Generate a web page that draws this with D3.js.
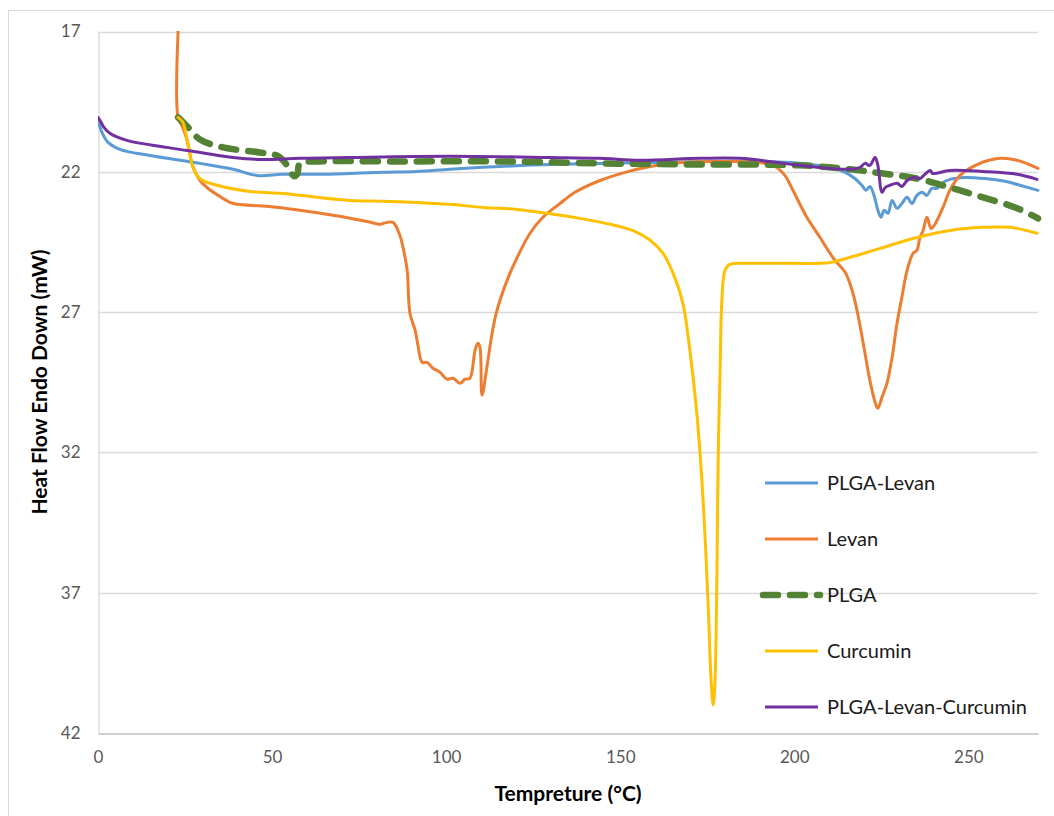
<!DOCTYPE html>
<html>
<head>
<meta charset="utf-8">
<script src="https://cdn.jsdelivr.net/npm/d3@7"></script>
<style>
  html, body { margin: 0; padding: 0; background: #fff; }
  svg { display: block; }
  text { font-family: Lato, "Open Sans", sans-serif; }
</style>
</head>
<body>
<svg id="chart" width="1054" height="816"></svg>
<script>
// ---- Data (temperature °C, heat flow mW) ----
const seriesNames = ["PLGA-Levan", "Levan", "PLGA", "Curcumin", "PLGA-Levan-Curcumin"];
const seriesColors = ["#5B9BD5", "#ED7D31", "#548235", "#FFC000", "#7030A0"];

const plgaLevan = [
  [0,20.17],[1.15,20.60],[2.9,20.95],[6.3,21.20],[14.9,21.42],[29.3,21.70],[38.8,21.91],[45.7,22.13],
  [53.1,22.09],[62.9,22.09],[72.4,22.06],[81.9,22.02],[91.6,21.99],[101.1,21.91],[115.5,21.81],
  [129.8,21.74],[144.2,21.70],[158.6,21.67],[172.9,21.63],[187.3,21.63],[198.8,21.67],[204.5,21.74],
  [210.3,21.84],[214.6,22.02],[217.4,22.24],[219.4,22.48],[220.6,22.66],[221.7,22.52],[222.9,22.84],
  [224.0,23.37],[224.9,23.62],[225.8,23.37],[226.9,23.48],[228.1,23.02],[229.5,23.30],[230.9,23.13],
  [232.4,22.91],[233.8,23.13],[235.2,22.84],[236.7,22.73],[238.1,22.84],[239.5,22.59],[241.0,22.59],
  [242.4,22.41],[244.7,22.27],[249.0,22.20],[254.8,22.24],[260.5,22.34],[264.8,22.48],[270,22.66]
];

const levan = [
  [23.0,17.0],[23.0,20.06],[24.1,20.35],[25.6,20.88],[27.3,21.84],[29.3,22.31],[31.3,22.56],[34.5,22.84],
  [37.9,23.09],[39.9,23.16],[48.5,23.23],[58.0,23.37],[67.5,23.55],[77.3,23.77],[81.0,23.87],[81.9,23.84],
  [84.7,23.80],[86.7,24.26],[87.6,24.69],[88.8,25.51],[89.6,27.04],[91.1,27.65],[91.9,28.18],[93.1,28.79],
  [94.5,28.79],[96.2,29.00],[98.2,29.14],[100.2,29.39],[102.0,29.36],[104.0,29.54],[105.4,29.39],
  [106.8,29.36],[108.3,28.36],[109.1,28.11],[109.7,28.25],[110.3,29.96],[111.7,28.97],[113.2,27.75],
  [114.6,26.94],[117.5,25.87],[120.4,25.05],[124.1,24.19],[127.8,23.62],[132.7,23.13],[137.0,22.73],
  [144.2,22.31],[151.4,22.02],[158.6,21.81],[167.2,21.67],[178.7,21.63],[190.1,21.67],[194.5,21.81],
  [197.3,22.13],[199.6,22.66],[203.6,23.62],[207.4,24.34],[209.7,24.80],[211.7,25.16],[214.6,25.58],
  [216.6,26.22],[218.3,27.11],[220.0,28.25],[221.7,29.43],[223.2,30.21],[224.0,30.43],[225.2,30.03],
  [226.6,29.54],[228.1,28.61],[229.5,27.40],[230.9,26.47],[232.4,25.51],[234.1,24.91],[235.2,24.80],
  [236.1,24.34],[237.0,24.09],[238.1,23.62],[239.3,24.02],[240.4,23.87],[242.7,23.27],[244.7,22.66],
  [247.6,22.13],[252.5,21.74],[259.1,21.52],[264.0,21.59],[270.0,21.88]
];

const plga = [
  [23.0,20.06],[25.6,20.38],[29.3,20.85],[35.9,21.13],[46.5,21.31],[51.4,21.42],[53.7,21.67],[55.4,22.02],
  [56.3,22.16],[57.2,22.09],[58.0,21.70],[62.9,21.63],[86.7,21.63],[115.5,21.63],[144.2,21.70],
  [172.9,21.74],[201.6,21.77],[216.0,21.91],[225.5,22.06],[235.2,22.24],[244.7,22.56],[254.2,22.91],
  [264.0,23.30],[270.0,23.66]
];

const curcumin = [
  [23.0,20.06],[24.4,20.24],[25.9,21.06],[27.3,21.84],[29.3,22.24],[34.2,22.48],[43.7,22.70],[53.1,22.77],
  [62.9,22.91],[72.4,23.02],[81.9,23.05],[91.6,23.09],[101.1,23.16],[110.6,23.27],[120.4,23.34],
  [129.0,23.48],[138.4,23.66],[147.1,23.87],[154.2,24.12],[158.6,24.44],[162.3,24.91],[165.2,25.62],
  [168.0,26.69],[170.0,28.36],[172.1,30.75],[173.8,33.70],[175.2,37.26],[176.1,40.11],[176.7,41.00],
  [177.2,40.22],[177.8,36.09],[178.1,32.53],[178.7,28.97],[179.2,26.58],[180.1,25.51],[181.5,25.30],
  [187.3,25.26],[195.9,25.26],[210.3,25.23],[215.1,25.08],[224.6,24.73],[235.2,24.34],[244.7,24.09],
  [254.2,23.98],[262.0,23.98],[269.7,24.19]
];

const plgaLevanCurcumin = [
  [0,20.06],[0.6,20.17],[1.7,20.42],[3.4,20.63],[8.3,20.88],[19.8,21.13],[29.3,21.31],[38.8,21.49],
  [46.5,21.56],[58.0,21.52],[72.4,21.49],[101.1,21.45],[129.8,21.49],[144.2,21.52],[155.7,21.59],
  [172.9,21.52],[184.4,21.52],[196.8,21.70],[206.5,21.84],[216.0,21.91],[218.9,21.84],[220.3,21.70],
  [221.7,21.77],[223.2,21.49],[224.0,21.77],[225.2,22.73],[226.1,22.56],[227.5,22.48],[229.5,22.41],
  [230.9,22.52],[232.4,22.31],[234.1,22.20],[236.1,22.24],[237.5,22.09],[239.0,21.95],[239.8,22.06],
  [244.7,21.95],[254.2,21.99],[264.0,22.09],[269.7,22.27]
];

const xTicks = [0, 50, 100, 150, 200, 250];
const yTicks = [17, 22, 27, 32, 37, 42];
const xDomain = [0, 270];
const yDomain = [17, 42];
const xTitle = "Tempreture (°C)";
const yTitle = "Heat Flow Endo Down (mW)";

const allSeries = [plgaLevan, levan, plga, curcumin, plgaLevanCurcumin];

// ---- Layout ----
const svg = d3.select("#chart");
const plot = { left: 98, top: 31.5, right: 1038, bottom: 733 };

// outer chart border
svg.append("rect").attr("x", 8.5).attr("y", 10.5).attr("width", 1060).attr("height", 820)
  .attr("fill", "#fff").attr("stroke", "#d9d9d9").attr("stroke-width", 1);

const x = d3.scaleLinear().domain(xDomain).range([plot.left, plot.right]);
const y = d3.scaleLinear().domain(yDomain).range([plot.top, plot.bottom]);

// gridlines
svg.append("g").selectAll("line").data(yTicks.slice(0, -1)).join("line")
  .attr("x1", plot.left).attr("x2", plot.right)
  .attr("y1", d => Math.round(y(d)) + 0.5).attr("y2", d => Math.round(y(d)) + 0.5)
  .attr("stroke", "#d9d9d9").attr("stroke-width", 1.3);

// axes
const xAxis = d3.axisBottom(x).tickValues(xTicks).tickSize(0).tickPadding(17);
const gx = svg.append("g").attr("transform", `translate(0,${Math.round(y(42)) + 0.5})`).call(xAxis);
gx.select(".domain").attr("stroke", "#bfbfbf").attr("stroke-width", 1.3);
gx.selectAll("text").attr("fill", "#595959").attr("font-size", 17).attr("font-family", "Lato, sans-serif");

const yAxis = d3.axisLeft(y).tickValues(yTicks).tickSize(0).tickPadding(18);
const gy = svg.append("g").attr("transform", `translate(${plot.left + 0.5},0)`).call(yAxis);
gy.select(".domain").attr("stroke", "#d9d9d9").attr("stroke-width", 1.3);
gy.selectAll("text").attr("fill", "#595959").attr("font-size", 17).attr("font-family", "Lato, sans-serif");

// axis titles
svg.append("text").attr("x", 568).attr("y", 801).attr("text-anchor", "middle")
  .attr("font-size", 21).attr("font-weight", "bold").attr("fill", "#000").text(xTitle);
svg.append("text").attr("transform", "translate(47,382) rotate(-90)").attr("text-anchor", "middle")
  .attr("font-size", 21).attr("font-weight", "bold").attr("fill", "#000").text(yTitle);

// clip
svg.append("clipPath").attr("id", "clip").append("rect")
  .attr("x", plot.left).attr("y", plot.top - 0.5).attr("width", plot.right - plot.left + 4).attr("height", plot.bottom - plot.top);

const line = d3.line().x(d => x(d[0])).y(d => y(d[1])).curve(d3.curveCatmullRom.alpha(0.5));

const gLines = svg.append("g").attr("clip-path", "url(#clip)");
allSeries.forEach((data, i) => {
  const p = gLines.append("path").datum(data).attr("d", line)
    .attr("fill", "none").attr("stroke", seriesColors[i])
    .attr("stroke-linejoin", "round");
  if (seriesNames[i] === "PLGA") {
    p.attr("stroke-width", 6.5).attr("stroke-dasharray", "15 12").attr("stroke-linecap", "round");
  } else {
    p.attr("stroke-width", 3).attr("stroke-linecap", "round");
  }
});

// legend
const legY0 = 483, legStep = 56;
const leg = svg.append("g");
seriesNames.forEach((name, i) => {
  const yy = legY0 + i * legStep;
  const l = leg.append("line").attr("x1", 765).attr("x2", 818).attr("y1", yy).attr("y2", yy)
    .attr("stroke", seriesColors[i]);
  if (name === "PLGA") {
    l.attr("x1", 763).attr("x2", 820).attr("stroke-width", 6.5).attr("stroke-dasharray", "15 12").attr("stroke-linecap", "round");
  } else {
    l.attr("stroke-width", 3);
  }
  leg.append("text").attr("x", 827).attr("y", yy + 7).attr("font-size", 20).attr("fill", "#1a1a1a").text(name);
});
</script>
</body>
</html>
